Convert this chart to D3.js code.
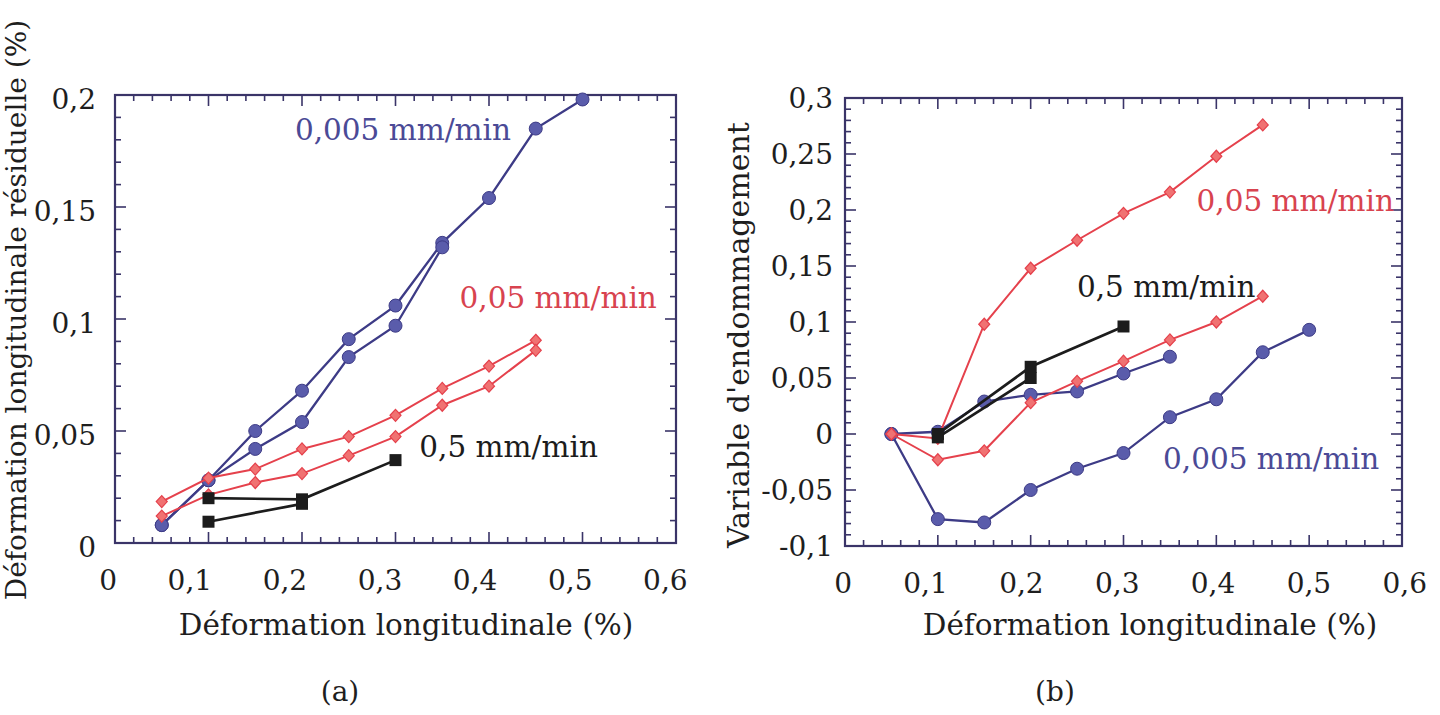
<!DOCTYPE html>
<html><head><meta charset="utf-8">
<script src="https://cdn.jsdelivr.net/npm/d3@7"></script>
<style>
html,body{margin:0;padding:0;background:#fff;}
svg{display:block;}
text{font-family:"DejaVu Serif",serif;}
</style></head>
<body>
<svg id="c" width="1440" height="715"></svg>
<script>
// ---------- DATA ----------
const xTickValues = [0, 0.1, 0.2, 0.3, 0.4, 0.5, 0.6];
const yTicksA = [0, 0.05, 0.1, 0.15, 0.2];
const yTicksB = [-0.1, -0.05, 0, 0.05, 0.1, 0.15, 0.2, 0.25, 0.3];

// (a) déformation résiduelle
const aBlue1 = [[0.05,0.008],[0.1,0.028],[0.15,0.050],[0.2,0.068],[0.25,0.091],[0.3,0.106],[0.35,0.134],[0.4,0.154],[0.45,0.185],[0.5,0.198]];
const aBlue2 = [[0.05,0.008],[0.1,0.028],[0.15,0.042],[0.2,0.054],[0.25,0.083],[0.3,0.097],[0.35,0.132]];
const aRed1  = [[0.05,0.0185],[0.1,0.029],[0.15,0.033],[0.2,0.042],[0.25,0.0475],[0.3,0.057],[0.35,0.069],[0.4,0.079],[0.45,0.0905]];
const aRed2  = [[0.05,0.012],[0.1,0.0215],[0.15,0.027],[0.2,0.031],[0.25,0.039],[0.3,0.0475],[0.35,0.0615],[0.4,0.070],[0.45,0.086]];
const aBlack1 = [[0.1,0.020],[0.2,0.0195],[0.3,0.037]];
const aBlack2 = [[0.1,0.0095],[0.2,0.0175]];

// (b) variable d'endommagement
const bRed1  = [[0.05,0],[0.1,-0.004],[0.15,0.098],[0.2,0.148],[0.25,0.173],[0.3,0.197],[0.35,0.216],[0.4,0.248],[0.45,0.276]];
const bRed2  = [[0.05,0],[0.1,-0.023],[0.15,-0.015],[0.2,0.028],[0.25,0.047],[0.3,0.065],[0.35,0.084],[0.4,0.100],[0.45,0.123]];
const bBlue1 = [[0.05,0],[0.1,0.002],[0.15,0.029],[0.2,0.035],[0.25,0.038],[0.3,0.054],[0.35,0.069]];
const bBlue2 = [[0.05,0],[0.1,-0.076],[0.15,-0.079],[0.2,-0.050],[0.25,-0.031],[0.3,-0.017],[0.35,0.015],[0.4,0.031],[0.45,0.073],[0.5,0.093]];
const bBlack1 = [[0.1,0.0],[0.2,0.060],[0.3,0.096]];
const bBlack2 = [[0.1,-0.003],[0.2,0.050]];

// annotation labels [text, x, y] in data units
const annotA = [["0,005 mm/min",0.308,0.180,"blue"],["0,05 mm/min",0.474,0.105,"red"],["0,5 mm/min",0.421,0.0384,"black"]];
const annotB = [["0,05 mm/min",0.485,0.199,"red"],["0,5 mm/min",0.346,0.122,"black"],["0,005 mm/min",0.459,-0.031,"blue"]];

// ---------- STYLE ----------
const COL = {
  frame:"#3a3468",
  blueLine:"#3d3b86", blueFill:"#5a5cab", blueText:"#4b4a96",
  redLine:"#e5414c", redFill:"#f07272", redText:"#d8434f",
  black:"#1c1c1c", text:"#1e1e1e"
};
const FS = 28;
const FT = 29.5;
const fmt = v => (Math.abs(v) < 1e-9 ? "0" : String(+v.toFixed(2)).replace(".", ","));

const svg = d3.select("#c");

function panel(cfg){
  const g = svg.append("g");
  const x = d3.scaleLinear().domain([0,0.6]).range([cfg.x0, cfg.x1]);
  const y = d3.scaleLinear().domain(cfg.yDomain).range([cfg.yb, cfg.yt]);

  // ticks (inward, all four sides)
  const xMinor = d3.range(0, 0.6001, 0.02);
  const yMinor = d3.range(cfg.yDomain[0], cfg.yDomain[1] + 1e-6, 0.01);
  const isMajX = v => Math.abs(v*10 - Math.round(v*10)) < 1e-6;
  const isMajY = v => Math.abs(v*20 - Math.round(v*20)) < 1e-6;
  const tg = g.append("g").attr("stroke", COL.frame).attr("stroke-width", 1.6);
  xMinor.forEach(v => {
    const L = isMajX(v) ? 11 : 6;
    tg.append("line").attr("x1", x(v)).attr("x2", x(v)).attr("y1", cfg.yb).attr("y2", cfg.yb - L);
    tg.append("line").attr("x1", x(v)).attr("x2", x(v)).attr("y1", cfg.yt).attr("y2", cfg.yt + L);
  });
  yMinor.forEach(v => {
    const L = isMajY(v) ? 11 : 6;
    tg.append("line").attr("y1", y(v)).attr("y2", y(v)).attr("x1", cfg.x0).attr("x2", cfg.x0 + L);
    tg.append("line").attr("y1", y(v)).attr("y2", y(v)).attr("x1", cfg.x1).attr("x2", cfg.x1 - L);
  });
  g.append("rect").attr("x", cfg.x0).attr("y", cfg.yt).attr("width", cfg.x1 - cfg.x0).attr("height", cfg.yb - cfg.yt)
    .attr("fill", "none").attr("stroke", COL.frame).attr("stroke-width", 2.2);

  // tick labels
  g.selectAll(".xl").data(xTickValues).enter().append("text")
    .attr("x", d => x(d) + cfg.xlDx(d)).attr("y", cfg.yb + 47)
    .attr("text-anchor", "end").attr("font-size", FS).attr("fill", COL.text)
    .text(d => fmt(d));
  g.selectAll(".yl").data(cfg.yTicks).enter().append("text")
    .attr("x", cfg.x0 - cfg.ylGap).attr("y", d => y(d) + cfg.ylDy)
    .attr("text-anchor", "end").attr("font-size", FS).attr("fill", COL.text)
    .text(d => fmt(d));

  // titles
  g.append("text").attr("x", cfg.xtX).attr("y", 635).attr("text-anchor", "middle")
    .attr("font-size", FT).attr("fill", COL.text).text("Déformation longitudinale (%)");
  g.append("text").attr("x", cfg.capX).attr("y", 701).attr("text-anchor", "middle")
    .attr("font-size", FS).attr("fill", COL.text).text(cfg.cap);
  g.append("text").attr("transform", `translate(${cfg.ytX},${cfg.ytY}) rotate(-90)`)
    .attr("text-anchor", "middle").attr("font-size", cfg.ytFS).attr("fill", COL.text).text(cfg.ytText);

  const line = d3.line().x(d => x(d[0])).y(d => y(d[1]));
  function series(data, kind){
    const sg = g.append("g");
    const lc = kind === "blue" ? COL.blueLine : kind === "red" ? COL.redLine : COL.black;
    const lw = kind === "blue" ? 2.3 : kind === "red" ? 2 : 2.7;
    sg.append("path").attr("d", line(data)).attr("fill", "none").attr("stroke", lc).attr("stroke-width", lw);
    const pts = sg.selectAll("g").data(data).enter().append("g")
      .attr("transform", d => `translate(${x(d[0])},${y(d[1])})`);
    if (kind === "blue") {
      pts.append("circle").attr("r", 6.5).attr("fill", COL.blueFill).attr("stroke", COL.blueLine).attr("stroke-width", 1);
    } else if (kind === "red") {
      pts.append("path").attr("d", "M0,-6 L5.5,0 L0,6 L-5.5,0 Z").attr("fill", COL.redFill).attr("stroke", COL.redLine).attr("stroke-width", 1.2);
    } else {
      pts.append("rect").attr("x", -6).attr("y", -6).attr("width", 12).attr("height", 12).attr("fill", COL.black);
    }
  }
  cfg.series.forEach(s => series(s[0], s[1]));

  cfg.annot.forEach(a => {
    const c = a[3] === "blue" ? COL.blueText : a[3] === "red" ? COL.redText : COL.black;
    g.append("text").attr("x", x(a[1])).attr("y", y(a[2])).attr("text-anchor", "middle")
      .attr("font-size", FT).attr("fill", c).text(a[0]);
  });
}

panel({
  x0:115, x1:676, yt:95, yb:543, yDomain:[0,0.2], yTicks:yTicksA,
  xlDx: v => 2 + 16*v, ylGap:19, ylDy:14,
  xtX:406, capX:340, cap:"(a)",
  ytX:26, ytY:310, ytFS:28, ytText:"Déformation longitudinale résiduelle (%)",
  series:[[aBlue1,"blue"],[aBlue2,"blue"],[aRed1,"red"],[aRed2,"red"],[aBlack1,"black"],[aBlack2,"black"]],
  annot:annotA
});
panel({
  x0:845, x1:1402, yt:98, yb:546, yDomain:[-0.1,0.3], yTicks:yTicksB,
  xlDx: v => 7 + 30*v, ylGap:12, ylDy:10,
  xtX:1150, capX:1055, cap:"(b)",
  ytX:749, ytY:335, ytFS:30, ytText:"Variable d'endommagement",
  series:[[bBlue1,"blue"],[bBlue2,"blue"],[bRed1,"red"],[bRed2,"red"],[bBlack1,"black"],[bBlack2,"black"]],
  annot:annotB
});
</script>
</body></html>
